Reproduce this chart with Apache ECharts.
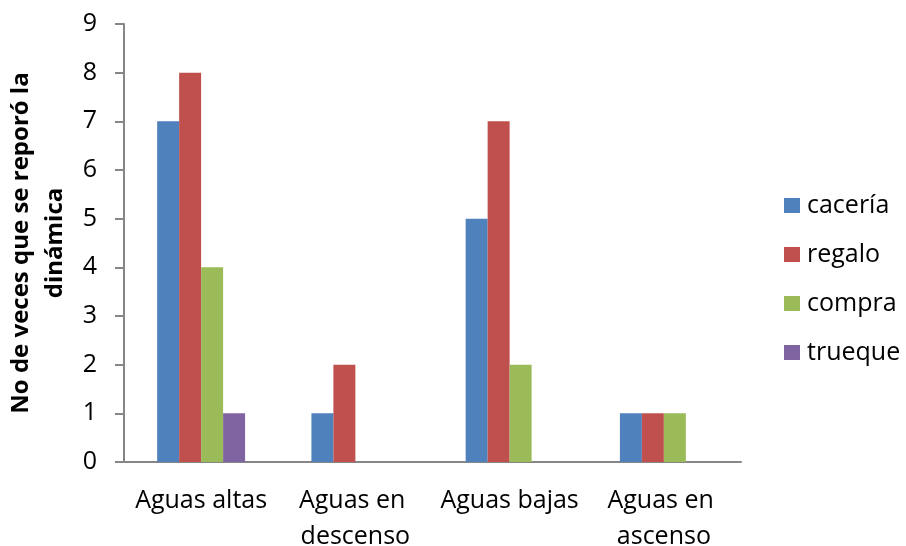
<!DOCTYPE html>
<html>
<head>
<meta charset="utf-8">
<style>
  html, body { margin: 0; padding: 0; background: #fff; }
  #chart { width: 906px; height: 546px; }
</style>
<script src="https://cdn.jsdelivr.net/npm/echarts@6/dist/echarts.min.js"></script>
</head>
<body>
<div id="chart"></div>
<script>
// Periods of the hydrological cycle
const categories = ['Aguas altas', 'Aguas en descenso', 'Aguas bajas', 'Aguas en ascenso'];

// Number of times each exchange dynamic was reported
const caceria = [7, 1, 5, 1];
const regalo  = [8, 2, 7, 1];
const compra  = [4, 0, 2, 1];
const trueque = [1, 0, 0, 0];

const yTicks = [0, 1, 2, 3, 4, 5, 6, 7, 8, 9];

const FONT = '"Open Sans", Lato, sans-serif';
const FS = 25;
const AXIS_GRAY = '#868686';

const chart = echarts.init(document.getElementById('chart'), null, { renderer: 'canvas' });

function bar(name, data, color) {
  return {
    name: name,
    type: 'bar',
    data: data,
    barGap: '0%',
    barCategoryGap: '43%',
    itemStyle: { color: color },
    emphasis: { disabled: true }
  };
}

chart.setOption({
  animation: false,
  textStyle: { fontFamily: FONT },
  grid: { left: 124, right: 165, top: 24, bottom: 84, outerBoundsMode: 'none' },
  legend: {
    orient: 'vertical',
    left: 784,
    top: 193,
    itemWidth: 16,
    itemHeight: 15,
    itemGap: 24,
    icon: 'rect',
    padding: 0,
    textStyle: { fontFamily: FONT, fontSize: FS, color: '#000', lineHeight: 25, padding: [0, 0, 0, 2] },
    data: ['cacería', 'regalo', 'compra', 'trueque']
  },
  xAxis: {
    type: 'category',
    data: categories,
    axisLine: { lineStyle: { color: AXIS_GRAY, width: 2 } },
    axisTick: { show: false },
    axisLabel: {
      color: '#000',
      fontFamily: FONT,
      fontSize: FS,
      margin: 21,
      lineHeight: 36,
      interval: 0,
      width: 150,
      overflow: 'break'
    }
  },
  yAxis: {
    type: 'value',
    min: yTicks[0],
    max: yTicks[yTicks.length - 1],
    interval: 1,
    name: 'No de veces que se reporó la\ndinámica',
    nameLocation: 'middle',
    nameRotate: 90,
    nameGap: 46,
    nameTextStyle: {
      fontFamily: FONT,
      fontSize: 24,
      fontWeight: 'bold',
      color: '#000',
      lineHeight: 34,
      align: 'center'
    },
    axisLine: { show: true, lineStyle: { color: AXIS_GRAY, width: 2 } },
    axisTick: { show: true, length: 9, lineStyle: { color: AXIS_GRAY, width: 2 } },
    axisLabel: { color: '#000', fontFamily: FONT, fontSize: FS, margin: 27 },
    splitLine: { show: false }
  },
  series: [
    bar('cacería', caceria, '#4F81BD'),
    bar('regalo', regalo, '#C0504D'),
    bar('compra', compra, '#9BBB59'),
    bar('trueque', trueque, '#8064A2')
  ]
});
</script>
</body>
</html>
